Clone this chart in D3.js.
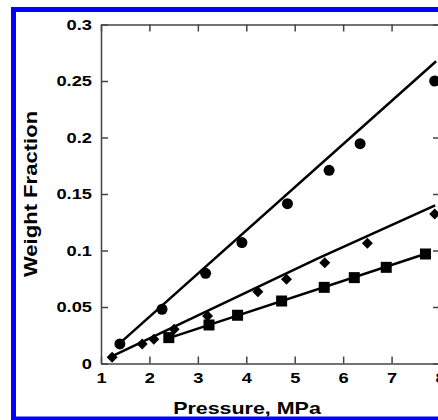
<!DOCTYPE html>
<html>
<head>
<meta charset="utf-8">
<script src="https://cdn.jsdelivr.net/npm/d3@7"></script>
<style>
  body { margin: 0; background: #fff; }
  svg { display: block; font-family: "Liberation Sans", Arial, sans-serif; }
</style>
</head>
<body>
<div id="chart"></div>
<script>
// ticks
const xTicks = [1, 2, 3, 4, 5, 6, 7, 8];
const yTicks = [0, 0.05, 0.1, 0.15, 0.2, 0.25, 0.3];
const yTickLabels = ["0", "0.05", "0.1", "0.15", "0.2", "0.25", "0.3"];

// points (pressure MPa, weight fraction)
const circleP = [1.39, 2.26, 3.16, 3.91, 4.85, 5.71, 6.35, 7.89];
const circleW = [0.0173, 0.048, 0.0798, 0.107, 0.1414, 0.171, 0.1945, 0.25];
const diamondP = [1.23, 1.85, 2.09, 2.51, 3.2, 4.24, 4.83, 5.62, 6.5, 7.89];
const diamondW = [0.0055, 0.0173, 0.0214, 0.0303, 0.042, 0.0636, 0.0745, 0.0892, 0.1064, 0.1323];
const squareP = [2.4, 3.23, 3.82, 4.73, 5.61, 6.23, 6.89, 7.7];
const squareW = [0.0229, 0.0341, 0.0427, 0.0553, 0.0674, 0.076, 0.0851, 0.0969];

// model lines
const circleFitP = [1.35, 7.92];
const circleFitW = [0.0165, 0.2675];
const diamondFitP = [1.2, 3.46, 5.48, 7.9];
const diamondFitW = [0.0058, 0.0518, 0.093, 0.14];
const squareFitP = [2.4, 7.8];
const squareFitW = [0.0225, 0.0985];

const W = 438, H = 420;
const margin = { top: 24.5, left: 101 };
const width = 339, height = 339;
const stretch = 1.26; // the original lettering is wider than Arial

const svg = d3.select("#chart").append("svg")
    .attr("width", W)
    .attr("height", H);

// blue frame
svg.append("rect")
    .attr("x", 13.5).attr("y", 9.5)
    .attr("width", 440).attr("height", 409.5)
    .attr("fill", "none")
    .attr("stroke", "#0000ff")
    .attr("stroke-width", 5);

const g = svg.append("g")
    .attr("transform", "translate(" + margin.left + "," + margin.top + ")");

const x = d3.scaleLinear().domain([1, 8]).range([0, width]);
const y = d3.scaleLinear().domain([0, 0.3]).range([height, 0]);

function styleAxis(a) {
    a.attr("font-size", 14.5)
     .attr("font-weight", "bold")
     .attr("font-family", "'Liberation Sans', Arial, sans-serif");
    a.selectAll("path, line").attr("stroke", "#444").attr("stroke-width", 1.5);
    a.selectAll("text").attr("fill", "#000");
}

// axes, ticks inward on all sides
g.append("g")
    .attr("transform", "translate(0," + height + ")")
    .call(d3.axisBottom(x).tickValues(xTicks).tickFormat(d3.format("d"))
        .tickSizeInner(-7).tickSizeOuter(0).tickPadding(9))
    .call(styleAxis);

g.append("g")
    .call(d3.axisTop(x).tickValues(xTicks).tickFormat("")
        .tickSizeInner(-7).tickSizeOuter(0))
    .call(styleAxis);

g.append("g")
    .call(d3.axisLeft(y).tickValues(yTicks).tickFormat((d, i) => yTickLabels[i])
        .tickSizeInner(-7).tickSizeOuter(0).tickPadding(9))
    .call(styleAxis);

g.append("g")
    .attr("transform", "translate(" + width + ",0)")
    .call(d3.axisRight(y).tickValues(yTicks).tickFormat("")
        .tickSizeInner(-7).tickSizeOuter(0))
    .call(styleAxis);

// widen the lettering
function widen(sel) {
    sel.each(function() {
        const w = this.getComputedTextLength();
        if (w > 0) {
            d3.select(this)
                .attr("textLength", w * stretch)
                .attr("lengthAdjust", "spacingAndGlyphs");
        }
    });
}
widen(g.selectAll(".tick text"));

// axis titles
svg.append("text")
    .attr("x", 247).attr("y", 414)
    .attr("text-anchor", "middle")
    .style("font-size", "17px").style("font-weight", "bold")
    .text("Pressure, MPa")
    .call(widen);

svg.append("text")
    .attr("transform", "translate(37,194) rotate(-90)")
    .attr("text-anchor", "middle")
    .style("font-size", "17.5px").style("font-weight", "bold")
    .text("Weight Fraction")
    .call(widen);

// fit lines
const line = d3.line().x(d => x(d[0])).y(d => y(d[1]));
[[circleFitP, circleFitW], [diamondFitP, diamondFitW], [squareFitP, squareFitW]].forEach(function(s) {
    g.append("path")
        .datum(s[0].map((p, i) => [p, s[1][i]]))
        .attr("d", line)
        .attr("fill", "none")
        .attr("stroke", "#000")
        .attr("stroke-width", 2.5);
});

// markers
g.selectAll(".circ")
    .data(circleP.map((p, i) => [p, circleW[i]]))
  .enter().append("circle")
    .attr("cx", d => x(d[0]))
    .attr("cy", d => y(d[1]))
    .attr("r", 5.5)
    .attr("fill", "#000");

g.selectAll(".diam")
    .data(diamondP.map((p, i) => [p, diamondW[i]]))
  .enter().append("path")
    .attr("transform", d => "translate(" + x(d[0]) + "," + y(d[1]) + ")")
    .attr("d", "M0,-5.5L5.5,0L0,5.5L-5.5,0Z")
    .attr("fill", "#000");

g.selectAll(".sq")
    .data(squareP.map((p, i) => [p, squareW[i]]))
  .enter().append("rect")
    .attr("x", d => x(d[0]) - 5.5)
    .attr("y", d => y(d[1]) - 5.5)
    .attr("width", 11)
    .attr("height", 11)
    .attr("fill", "#000");
</script>
</body>
</html>
